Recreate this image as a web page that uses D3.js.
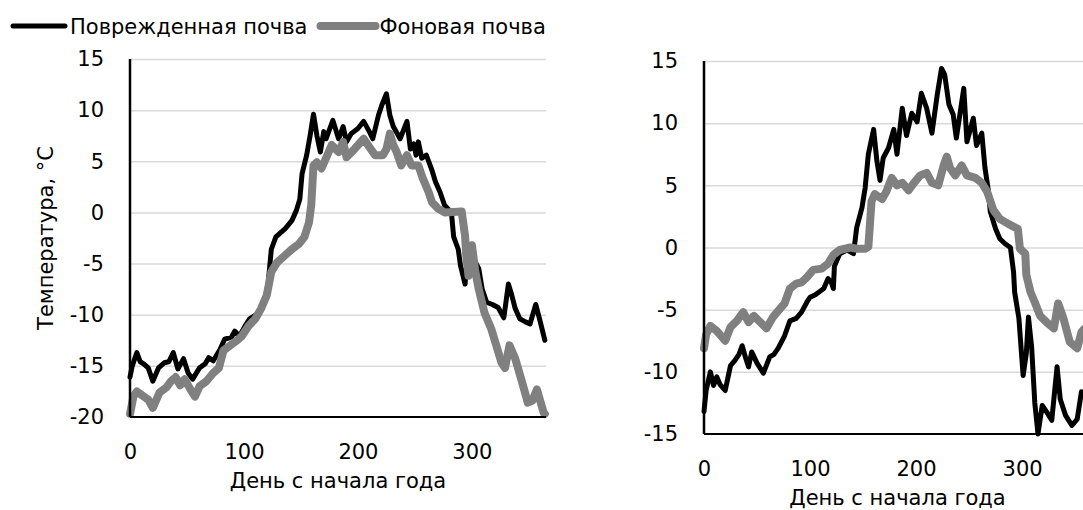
<!DOCTYPE html>
<html>
<head>
<meta charset="utf-8">
<script src="https://cdn.jsdelivr.net/npm/d3@7"></script>
<style>
  html, body { margin: 0; padding: 0; background: #fff; }
  svg { display: block; }
  text { font-family: "DejaVu Sans", "Open Sans", sans-serif; fill: #000; }
</style>
</head>
<body>
<svg id="chart" width="1083" height="510"></svg>
<script>
// Series labels
const seriesNames = ["Поврежденная почва", "Фоновая почва"];
const xTitle = "День с начала года";
const yTitle = "Температура, °C";

// Tick values
const xTicks = [0, 100, 200, 300];
const leftYTicks = [-20, -15, -10, -5, 0, 5, 10, 15];
const rightYTicks = [-15, -10, -5, 0, 5, 10, 15];

// Left panel: [day, temperature °C]
const leftDamaged = [
  [0,-16.1],[2,-15.0],[6,-13.7],[9,-14.6],[12,-14.8],[16,-15.2],[20,-16.5],[25,-15.2],
  [30,-14.7],[34,-14.6],[38,-13.7],[42,-15.3],[47,-14.3],[51,-15.7],[55,-16.3],[61,-15.2],
  [66,-14.8],[69,-14.2],[73,-14.5],[79,-13.4],[83,-12.4],[89,-12.2],[92,-11.6],[96,-12.1],
  [101,-11.1],[105,-10.4],[112,-9.9],[118,-8.8],[121,-7.2],[124,-3.6],[128,-2.4],[136,-1.6],
  [142,-0.8],[146,0.2],[149,1.3],[151,3.8],[155,5.6],[158,7.5],[161,9.6],[164,7.5],
  [167,5.9],[170,7.9],[172,7.2],[178,9.0],[183,7.2],[187,8.4],[190,6.9],[194,7.7],
  [200,8.2],[205,8.9],[210,7.9],[213,7.2],[218,9.5],[221,10.5],[225,11.6],[228,9.5],
  [231,8.4],[237,7.2],[243,8.9],[246,6.2],[249,6.7],[251,5.6],[253,6.9],[256,5.3],
  [260,5.6],[265,4.1],[268,3.0],[272,2.0],[276,0.7],[282,0.0],[284,-2.4],[288,-3.6],
  [290,-5.2],[294,-7.0],[295,-5.5],[300,-4.2],[306,-5.5],[309,-7.5],[313,-8.8],[318,-9.0],
  [323,-9.3],[328,-10.3],[332,-7.0],[335,-8.1],[338,-9.4],[342,-10.4],[347,-10.7],[351,-10.9],
  [356,-9.0],[360,-10.7],[364,-12.5]
];
const leftBackground = [
  [0,-19.7],[3,-18.0],[6,-17.5],[12,-18.0],[16,-18.3],[20,-19.1],[26,-17.6],[32,-17.1],
  [36,-16.5],[40,-16.1],[44,-16.9],[48,-16.3],[53,-17.3],[57,-18.0],[61,-17.0],[67,-16.5],
  [73,-15.7],[78,-15.2],[82,-13.5],[88,-13.0],[94,-12.5],[98,-12.1],[104,-11.1],[110,-10.4],
  [115,-9.4],[120,-8.1],[124,-5.8],[129,-4.9],[136,-4.2],[142,-3.6],[148,-3.1],[153,-2.4],
  [157,-1.0],[159,0.7],[161,4.6],[164,4.9],[168,4.3],[172,5.3],[177,6.6],[183,5.9],
  [187,6.9],[190,5.4],[197,6.2],[205,7.2],[210,6.4],[215,5.6],[222,5.6],[225,6.2],
  [228,7.7],[231,6.6],[234,5.9],[238,4.6],[243,5.6],[247,4.6],[253,4.6],[257,3.3],
  [262,2.0],[265,1.0],[270,0.4],[276,0.0],[291,0.1],[294,-2.3],[295,-4.2],[297,-6.2],
  [300,-3.2],[303,-5.8],[306,-7.5],[311,-9.8],[317,-11.4],[326,-14.7],[329,-15.2],[333,-13.0],
  [338,-14.3],[344,-16.6],[349,-18.6],[353,-18.4],[357,-17.3],[363,-19.6],[364,-19.7]
];

// Right panel: [day, temperature °C]
const rightDamaged = [
  [0,-13.2],[2,-11.5],[6,-10.0],[9,-11.1],[12,-10.4],[15,-11.0],[20,-11.5],[25,-9.5],
  [29,-9.1],[33,-8.6],[36,-7.9],[39,-8.8],[42,-9.6],[45,-8.4],[50,-9.3],[56,-10.1],
  [62,-8.8],[66,-8.6],[70,-8.1],[76,-7.1],[81,-5.9],[87,-5.7],[92,-5.2],[97,-4.4],
  [100,-4.0],[105,-3.8],[113,-3.3],[117,-2.5],[120,-2.8],[122,-3.3],[123,-1.5],[128,-0.5],
  [135,-0.2],[141,-0.5],[144,1.6],[149,3.2],[152,4.8],[155,7.5],[160,9.5],[163,7.0],
  [166,5.4],[169,7.2],[174,8.0],[179,9.5],[182,7.5],[187,11.2],[191,9.0],[196,10.8],
  [201,10.1],[205,12.4],[210,11.2],[215,9.2],[220,12.3],[224,14.4],[227,13.9],[231,11.5],
  [235,10.7],[238,8.8],[245,12.8],[248,8.5],[254,10.4],[257,8.2],[262,9.2],[265,6.4],
  [268,4.7],[270,2.9],[275,1.5],[279,0.7],[284,0.3],[289,0.0],[292,-2.0],[293,-3.6],
  [297,-5.7],[301,-10.3],[304,-8.5],[306,-5.6],[309,-8.0],[312,-12.5],[315,-15.0],[319,-12.7],
  [323,-13.2],[328,-13.9],[333,-9.6],[336,-12.2],[341,-13.5],[347,-14.3],[352,-13.8],[356,-11.6],
  [358,-11.8]
];
const rightBackground = [
  [0,-8.1],[2,-7.0],[6,-6.3],[12,-6.7],[20,-7.5],[25,-6.4],[31,-5.9],[37,-5.2],
  [42,-6.0],[47,-5.5],[53,-6.0],[59,-6.5],[65,-5.6],[72,-4.9],[76,-4.5],[81,-3.3],
  [87,-2.9],[92,-2.8],[97,-2.4],[103,-1.8],[111,-1.7],[117,-1.3],[122,-0.6],[128,-0.2],
  [138,0.0],[144,-0.1],[152,-0.1],[155,0.05],[158,3.7],[161,4.3],[168,3.9],[172,4.5],
  [177,5.6],[182,5.0],[187,5.2],[193,4.6],[198,5.2],[204,5.8],[210,6.0],[215,5.2],
  [221,5.0],[226,6.6],[229,7.3],[232,6.4],[237,5.8],[243,6.6],[248,5.8],[256,5.6],
  [262,5.2],[267,4.5],[273,3.0],[279,2.3],[287,1.9],[296,1.5],[298,-0.1],[303,-0.5],
  [304,-2.2],[308,-3.6],[312,-4.4],[317,-5.5],[323,-6.0],[330,-6.5],[334,-4.5],[339,-5.7],
  [345,-7.6],[352,-8.1],[356,-6.8],[358,-6.6]
];

const FONT = 21;
const COLORS = { damaged: "#000000", background: "#808080" };
const WIDTHS = { damaged: 5, background: 8 };
// tick labels use a plain hyphen for negatives
const fmt = d => String(d);

const svg = d3.select("#chart");

function drawPanel(cfg) {
  const x = d3.scaleLinear().domain([0, 365]).range([cfg.left, cfg.right]);
  const y = d3.scaleLinear().domain(cfg.yDomain).range([cfg.bottom, cfg.top]);
  const g = svg.append("g");

  // horizontal gridlines
  g.append("g")
    .attr("transform", `translate(${cfg.left},0)`)
    .call(d3.axisLeft(y).tickValues(cfg.yTicks.slice(1)).tickSize(-(cfg.right - cfg.left)).tickFormat(""))
    .call(s => s.select(".domain").remove())
    .call(s => s.selectAll("line").attr("stroke", "#d9d9d9").attr("stroke-width", 1.5));

  // y tick labels
  g.append("g")
    .attr("transform", `translate(${cfg.left},0)`)
    .call(d3.axisLeft(y).tickValues(cfg.yTicks).tickSize(0).tickPadding(26).tickFormat(fmt))
    .call(s => s.select(".domain").remove())
    .call(s => s.selectAll("text").attr("font-size", FONT).attr("font-family", null).attr("fill", "#000"));

  // x tick labels
  g.append("g")
    .attr("transform", `translate(0,${cfg.bottom})`)
    .call(d3.axisBottom(x).tickValues(xTicks).tickSize(0).tickPadding(cfg.xPad).tickFormat(fmt))
    .call(s => s.select(".domain").remove())
    .call(s => s.selectAll("text").attr("font-size", FONT).attr("font-family", null).attr("fill", "#000"));

  const line = d3.line().x(d => x(d[0])).y(d => y(d[1])).curve(d3.curveLinear);

  g.append("path").datum(cfg.damaged)
    .attr("d", line).attr("fill", "none")
    .attr("stroke", COLORS.damaged).attr("stroke-width", WIDTHS.damaged)
    .attr("stroke-linejoin", "round").attr("stroke-linecap", "round");
  g.append("path").datum(cfg.background)
    .attr("d", line).attr("fill", "none")
    .attr("stroke", COLORS.background).attr("stroke-width", WIDTHS.background)
    .attr("stroke-linejoin", "round").attr("stroke-linecap", "round");

  // axis lines
  g.append("line").attr("x1", cfg.left).attr("x2", cfg.left)
    .attr("y1", cfg.top).attr("y2", cfg.bottom)
    .attr("stroke", "#000").attr("stroke-width", 2.5);
  g.append("line").attr("x1", cfg.left).attr("x2", cfg.right)
    .attr("y1", cfg.bottom).attr("y2", cfg.bottom)
    .attr("stroke", "#000").attr("stroke-width", 2);

  // x axis title
  g.append("text")
    .attr("x", (cfg.left + cfg.right) / 2).attr("y", cfg.xTitleY)
    .attr("text-anchor", "middle").attr("font-size", FONT)
    .text(xTitle);

  if (cfg.showYTitle) {
    g.append("text")
      .attr("transform", `translate(${cfg.yTitleX},${(cfg.top + cfg.bottom) / 2}) rotate(-90)`)
      .attr("text-anchor", "middle").attr("font-size", FONT)
      .text(yTitle);
  }
}

drawPanel({
  left: 130, right: 546, top: 59, bottom: 417,
  yDomain: [-20, 15], yTicks: leftYTicks,
  damaged: leftDamaged, background: leftBackground,
  xPad: 27, xTitleY: 488, showYTitle: true, yTitleX: 53
});

drawPanel({
  left: 704, right: 1091, top: 61, bottom: 434,
  yDomain: [-15, 15], yTicks: rightYTicks,
  damaged: rightDamaged, background: rightBackground,
  xPad: 27, xTitleY: 505, showYTitle: false
});

// legend
const legend = svg.append("g");
const legY = 26;
legend.append("line").attr("x1", 13).attr("x2", 65).attr("y1", legY).attr("y2", legY)
  .attr("stroke", COLORS.damaged).attr("stroke-width", WIDTHS.damaged).attr("stroke-linecap", "round");
const t1 = legend.append("text").attr("x", 70).attr("y", legY + 7.5)
  .attr("font-size", FONT).text(seriesNames[0]);
const end1 = 70 + t1.node().getComputedTextLength();
legend.append("line").attr("x1", end1 + 13).attr("x2", end1 + 68).attr("y1", legY).attr("y2", legY)
  .attr("stroke", COLORS.background).attr("stroke-width", WIDTHS.background).attr("stroke-linecap", "round");
legend.append("text").attr("x", end1 + 72).attr("y", legY + 7.5)
  .attr("font-size", FONT).text(seriesNames[1]);
</script>
</body>
</html>
